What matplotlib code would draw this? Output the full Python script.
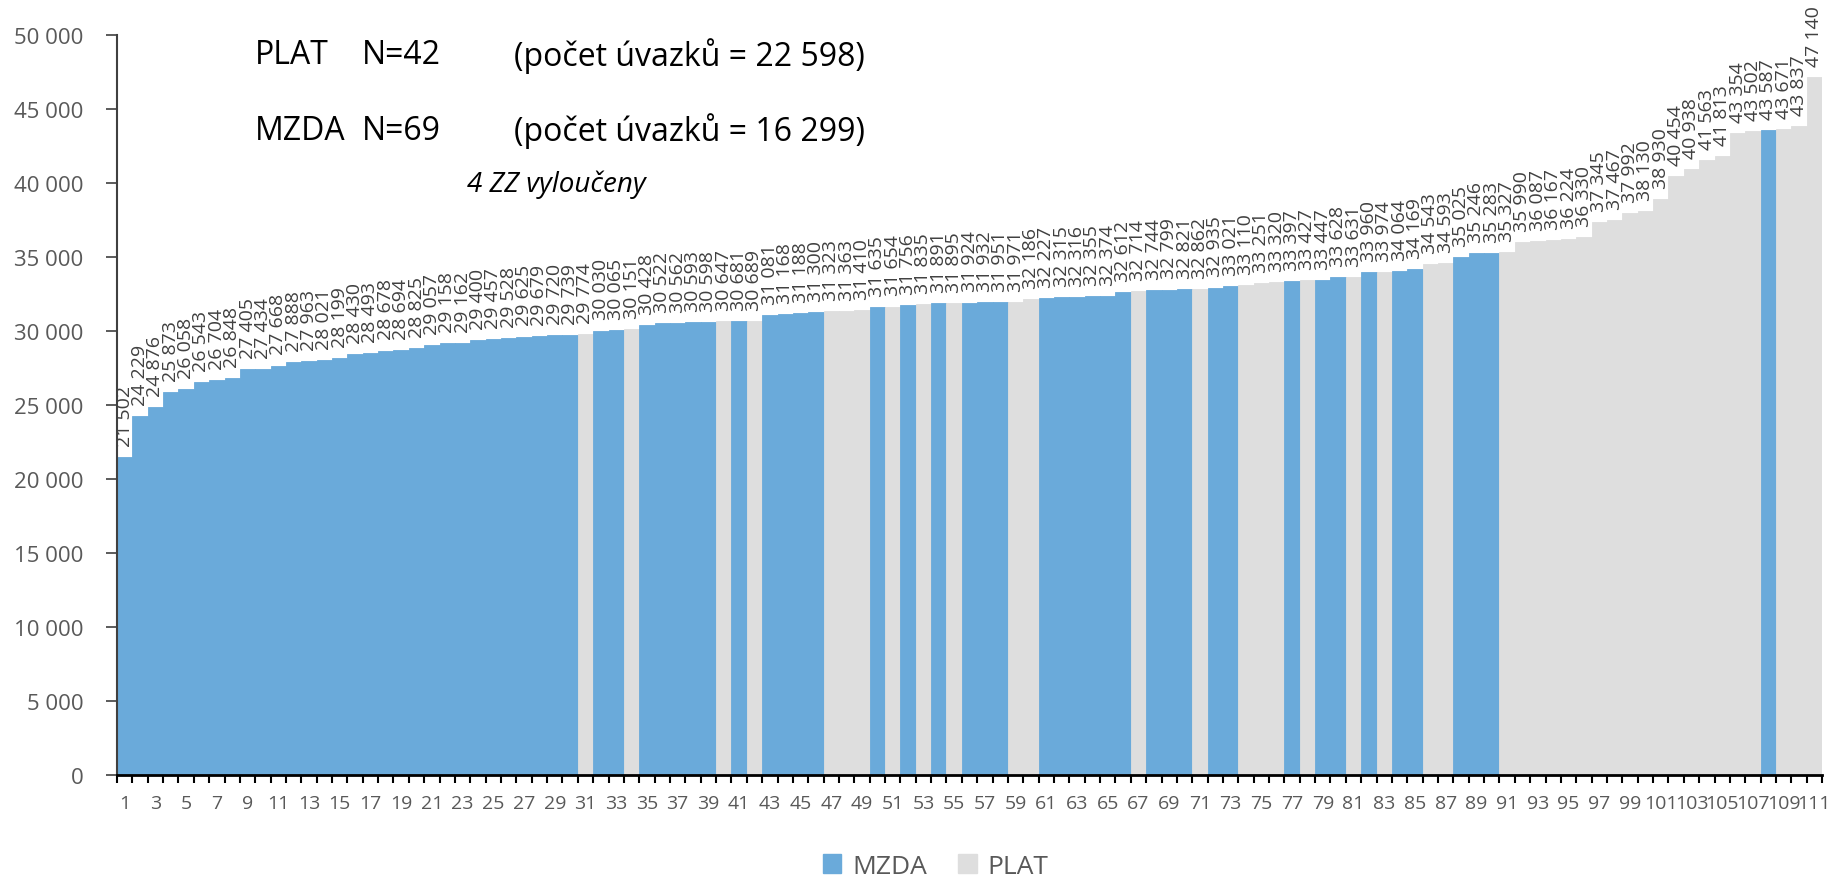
import matplotlib.pyplot as plt
from matplotlib.ticker import FixedLocator, FuncFormatter

# hodnoty sloupcu (serazeno vzestupne)
hodnoty = [
    21502, 24229, 24876, 25873, 26058, 26543, 26704, 26848, 27405, 27434,
    27668, 27888, 27963, 28021, 28199, 28430, 28493, 28678, 28694, 28825,
    29057, 29158, 29162, 29400, 29457, 29528, 29625, 29679, 29720, 29739,
    29774, 30030, 30065, 30151, 30428, 30522, 30562, 30593, 30598, 30647,
    30681, 30689, 31081, 31168, 31188, 31300, 31323, 31363, 31410, 31635,
    31654, 31756, 31835, 31891, 31895, 31924, 31932, 31951, 31971, 32186,
    32227, 32315, 32316, 32355, 32374, 32612, 32714, 32744, 32799, 32821,
    32862, 32935, 33021, 33110, 33251, 33320, 33397, 33427, 33447, 33628,
    33631, 33960, 33974, 34064, 34169, 34543, 34593, 35025, 35246, 35283,
    35327, 35990, 36087, 36167, 36224, 36330, 37345, 37467, 37992, 38130,
    38930, 40454, 40938, 41563, 41813, 43354, 43502, 43587, 43671, 43837,
    47140,
]

# M = MZDA, P = PLAT
typ = (
    "MMMMMMMMMM" "MMMMMMMMMM" "MMMMMMMMMM"
    "PMMPMMMMMP" "MPMMMMPPPM" "PMPMPMMMPP"
    "MMMMMMPMMM" "PMMPPPMPMM" "PMPMMPPMMM"
    "PPPPPPPPPP" "PPPPPPPMPP" "P"
)

barvy = {"M": "#6AAADA", "P": "#DEDEDE"}
nazvy = {"M": "MZDA", "P": "PLAT"}

plt.rcParams["font.family"] = ["Open Sans", "DejaVu Sans"]

fig = plt.figure(figsize=(18.31, 8.78), dpi=100)
ax = fig.add_axes([0.0639, 0.1162, 0.9312, 0.8428])

x = list(range(1, len(hodnoty) + 1))
sloupce = ax.bar(x, hodnoty, width=1.0,
                 color=[barvy[t] for t in typ],
                 edgecolor=[barvy[t] for t in typ], linewidth=0.6)

# popisky hodnot nad sloupci
for xi, v in zip(x, hodnoty):
    ax.annotate(f"{v:,}".replace(",", " "), (xi, v), xytext=(0, 8),
                textcoords="offset points", rotation=90,
                ha="center", va="bottom", fontsize=14, color="#404040")

ax.set_xlim(0.5, len(hodnoty) + 0.5)
ax.set_ylim(0, 50000)

# osa x: carky mezi sloupci, popisky u lichych
ax.xaxis.set_major_locator(FixedLocator(x[::2]))
ax.xaxis.set_minor_locator(FixedLocator([i + 0.5 for i in range(0, len(hodnoty) + 1)]))
ax.tick_params(axis="x", which="major", length=0, pad=14, labelsize=14, labelcolor="#595959")
ax.tick_params(axis="x", which="minor", length=6, width=1.5, color="black", direction="out")

ax.set_yticks(range(0, 50001, 5000))
ax.yaxis.set_major_formatter(FuncFormatter(lambda v, p: f"{int(v):,}".replace(",", " ")))
ax.tick_params(axis="y", length=8, width=1.2, color="#404040", pad=16,
               labelsize=16, labelcolor="#595959")

for s in ["top", "right"]:
    ax.spines[s].set_visible(False)
ax.spines["bottom"].set_linewidth(2)
ax.spines["bottom"].set_color("black")
ax.spines["left"].set_linewidth(1.5)
ax.spines["left"].set_color("#404040")

# texty v grafu
fig.text(255 / 1831, 1 - 56 / 878, "PLAT", fontsize=23, va="center")
fig.text(362 / 1831, 1 - 56 / 878, "N=42", fontsize=23, va="center")
fig.text(514 / 1831, 1 - 56 / 878, "(počet úvazků = 22 598)", fontsize=23, va="center")
fig.text(255 / 1831, 1 - 131 / 878, "MZDA", fontsize=23, va="center")
fig.text(362 / 1831, 1 - 131 / 878, "N=69", fontsize=23, va="center")
fig.text(514 / 1831, 1 - 131 / 878, "(počet úvazků = 16 299)", fontsize=23, va="center")
fig.text(467 / 1831, 1 - 185 / 878, "4 ZZ vyloučeny", fontsize=20, style="italic", va="center")

# legenda
h = [plt.Rectangle((0, 0), 1, 1, color=barvy[k]) for k in "MP"]
fig.legend(h, [nazvy[k] for k in "MP"], loc="center", bbox_to_anchor=(0.511, 0.012),
           ncol=2, frameon=False, fontsize=19, handlelength=0.7, handleheight=0.7,
           columnspacing=1.2, handletextpad=0.4, labelcolor="#595959")

fig.savefig("out.png", dpi=100)
